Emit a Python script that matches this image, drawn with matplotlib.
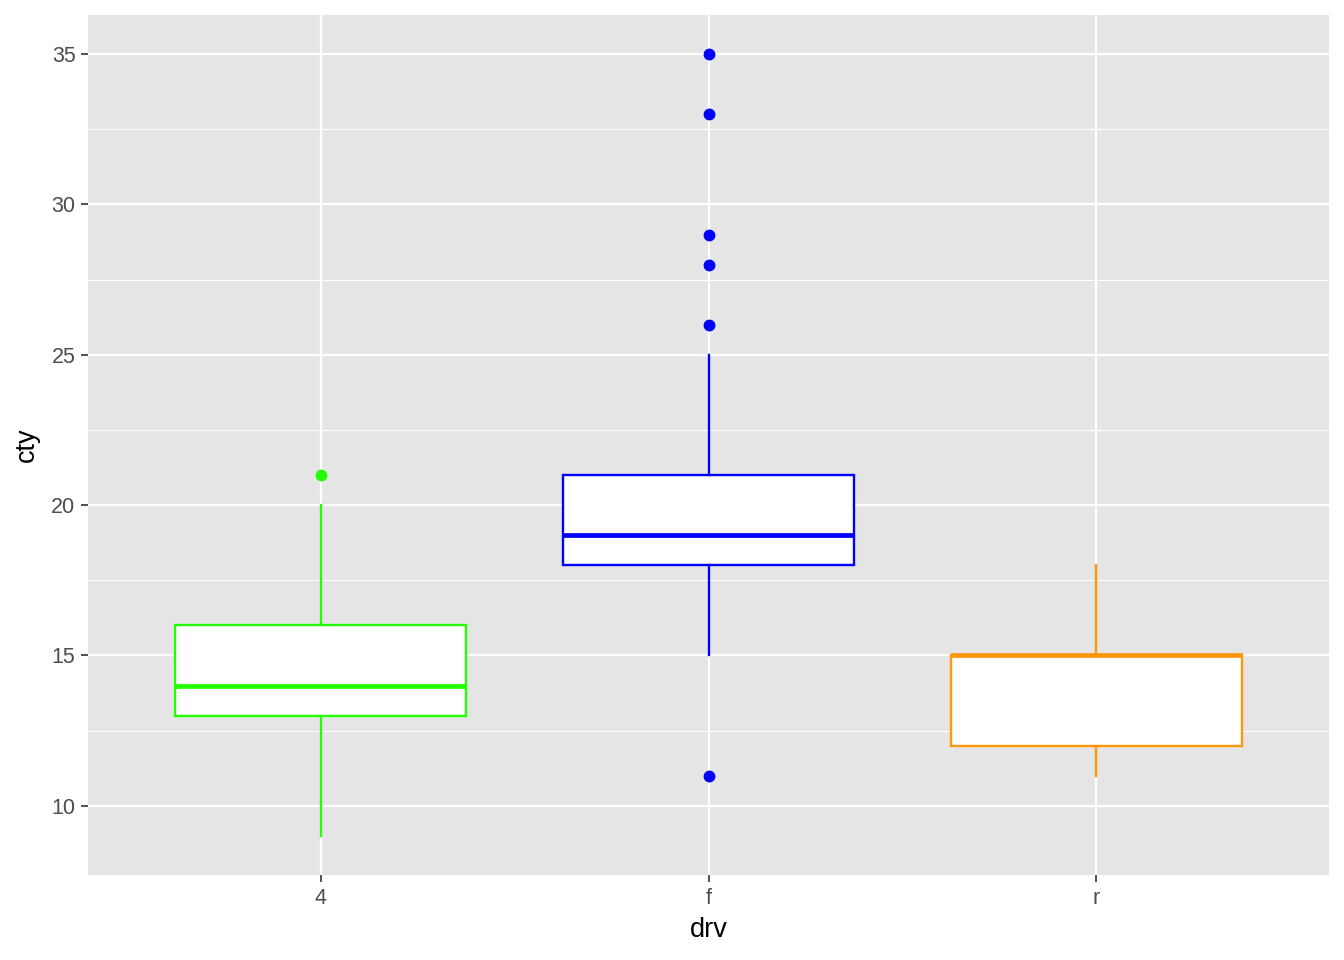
import matplotlib
matplotlib.use("Agg")
import matplotlib.pyplot as plt
from matplotlib.ticker import MultipleLocator

plt.rcParams["font.family"] = ["Liberation Sans", "DejaVu Sans"]

# data (mpg: cty by drv)
drv = ["4", "f", "r"]
q1 = [13, 18, 12]
med = [14, 19, 15]
q3 = [16, 21, 15]
whislo = [9, 15, 11]
whishi = [20, 25, 18]
fliers = [[21], [35, 33, 29, 28, 26, 11], []]
colors = ["#22FF00", "#0000FF", "#FF960C"]

fig = plt.figure(figsize=(13.44, 9.6), dpi=100)
ax = fig.add_axes([88/1344, 1 - 875/960, (1329 - 88)/1344, (875 - 15)/960])
ax.set_facecolor("#E5E5E5")

ax.yaxis.set_major_locator(MultipleLocator(5))
ax.yaxis.set_minor_locator(MultipleLocator(2.5))
ax.grid(which="major", color="white", linewidth=1.6)
ax.grid(which="minor", axis="y", color="white", linewidth=0.8)
ax.set_axisbelow(True)

for i in range(len(drv)):
    stats = [{"whislo": whislo[i], "q1": q1[i], "med": med[i], "q3": q3[i],
              "whishi": whishi[i], "fliers": fliers[i]}]
    c = colors[i]
    ax.bxp(stats, positions=[i + 1], widths=0.75, patch_artist=True, showcaps=False,
           boxprops=dict(facecolor="white", edgecolor=c, linewidth=1.7),
           medianprops=dict(color=c, linewidth=3.4, solid_capstyle="butt"),
           whiskerprops=dict(color=c, linewidth=1.7),
           flierprops=dict(marker="o", markerfacecolor=c, markeredgecolor=c, markersize=7.5),
           zorder=3)

ax.set_xlim(0.4, 3.6)
ax.set_ylim(7.7, 36.3)
ax.set_xticks([1, 2, 3])
ax.set_xticklabels(drv)
for s in ax.spines.values():
    s.set_visible(False)
ax.tick_params(which="major", length=5, width=1.2, color="#333333", labelsize=15.5, labelcolor="#4D4D4D", pad=4)
ax.tick_params(which="minor", length=0)
ax.set_xlabel("drv", fontsize=19.5, labelpad=6)
ax.set_ylabel("cty", fontsize=19.5, labelpad=8)

fig.savefig("out.png", dpi=100)
